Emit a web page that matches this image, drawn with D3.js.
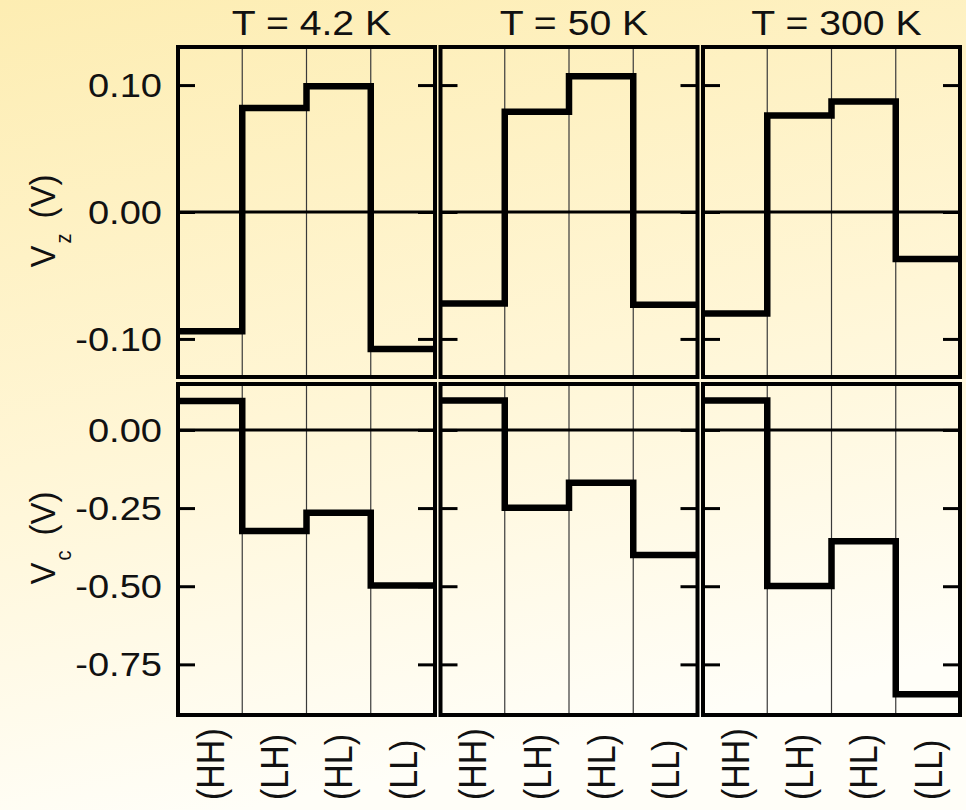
<!DOCTYPE html>
<html>
<head>
<meta charset="utf-8">
<script src="https://cdn.jsdelivr.net/npm/d3@7"></script>
<style>
  body { margin: 0; background: #fffdf5; }
  svg { display: block; }
  text { font-family: "Liberation Sans", Arial, sans-serif; fill: #111; }
</style>
</head>
<body>
<div id="chart"></div>
<script>
// temperatures (columns) and the four states on the x axis
const temps = ['T = 4.2 K', 'T = 50 K', 'T = 300 K'];
const states = ['(HH)', '(LH)', '(HL)', '(LL)'];

// Vz (V), top row
const vz42 = [-0.094, 0.082, 0.099, -0.108];
const vz50 = [-0.072, 0.079, 0.107, -0.073];
const vz300 = [-0.080, 0.076, 0.087, -0.037];

// Vc (V), bottom row
const vc42 = [0.093, -0.323, -0.265, -0.498];
const vc50 = [0.094, -0.249, -0.169, -0.400];
const vc300 = [0.094, -0.499, -0.356, -0.846];

const vzTicks = [0.10, 0.00, -0.10];
const vcTicks = [0.00, -0.25, -0.50, -0.75];

const width = 966;
const height = 810;
const sx = 1.12; // the original text is a little wide

const svg = d3.select('#chart').append('svg')
  .attr('width', width)
  .attr('height', height);

// background gradient, pale yellow fading to near white
const grad = svg.append('defs').append('linearGradient')
  .attr('id', 'bg')
  .attr('x1', 0).attr('y1', 0).attr('x2', 0.25).attr('y2', 1);
grad.append('stop').attr('offset', '0%').attr('stop-color', '#fdedb2');
grad.append('stop').attr('offset', '55%').attr('stop-color', '#fff6d6');
grad.append('stop').attr('offset', '100%').attr('stop-color', '#fffef8');
svg.append('rect').attr('width', width).attr('height', height).attr('fill', 'url(#bg)');

const panelW = 257;
const step = 262.5;
const left0 = 178;

// plain hyphen for negatives, as in the original
const fmt = (d) => d.toFixed(2);

const rows = [
  { series: [vz42, vz50, vz300], domain: [-0.13, 0.13], range: [377, 47], ticks: vzTicks,
    label: ['V', 'z'], labelY: 221 },
  { series: [vc42, vc50, vc300], domain: [-0.912, 0.147], range: [715, 384], ticks: vcTicks,
    label: ['V', 'c'], labelY: 538 }
];

const line = d3.line().curve(d3.curveStepAfter);

rows.forEach((row, r) => {
  const y = d3.scaleLinear().domain(row.domain).range(row.range);

  temps.forEach((t, c) => {
    const x0 = left0 + c * step;
    const x = d3.scaleBand().domain(states).range([x0, x0 + panelW]).paddingInner(0);
    const g = svg.append('g');

    // thin separators between states
    g.selectAll('.grid')
      .data(states.slice(1))
      .join('line')
      .attr('x1', (d) => x(d)).attr('x2', (d) => x(d))
      .attr('y1', row.range[1]).attr('y2', row.range[0])
      .attr('stroke', '#3a3a3a')
      .attr('stroke-width', 1.2);

    // zero line
    g.append('line')
      .attr('x1', x0).attr('x2', x0 + panelW)
      .attr('y1', y(0)).attr('y2', y(0))
      .attr('stroke', '#000')
      .attr('stroke-width', 3);

    // step trace
    const vals = row.series[c];
    const pts = states.map((s, i) => [x(s), y(vals[i])]);
    pts.push([x0 + panelW, y(vals[vals.length - 1])]);
    g.append('path')
      .attr('d', line(pts))
      .attr('fill', 'none')
      .attr('stroke', '#000')
      .attr('stroke-width', 6.5)
      .attr('stroke-linejoin', 'miter');

    // inside ticks on both sides
    const tl = g.append('g')
      .attr('transform', `translate(${x0},0)`)
      .call(d3.axisRight(y).tickValues(row.ticks).tickSize(17).tickFormat(''));
    const tr = g.append('g')
      .attr('transform', `translate(${x0 + panelW},0)`)
      .call(d3.axisLeft(y).tickValues(row.ticks).tickSize(17).tickFormat(''));
    [tl, tr].forEach((a) => {
      a.select('.domain').remove();
      a.selectAll('line').attr('stroke', '#000').attr('stroke-width', 3);
    });

    // frame
    g.append('rect')
      .attr('x', x0).attr('y', row.range[1])
      .attr('width', panelW).attr('height', row.range[0] - row.range[1])
      .attr('fill', 'none')
      .attr('stroke', '#000')
      .attr('stroke-width', 4);

    // column title
    if (r === 0) {
      svg.append('text')
        .attr('transform', `translate(${x0 + panelW / 2 + 5},35) scale(${sx},1)`)
        .attr('text-anchor', 'middle')
        .style('font-size', '35px')
        .text(t);
    }

    // state labels under the bottom row
    if (r === 1) {
      svg.append('g').selectAll('text')
        .data(states)
        .join('text')
        .attr('transform', (d) => `translate(${x(d) + x.bandwidth() / 2},800) scale(${sx},1) rotate(-90)`)
        .attr('dy', '0.36em')
        .attr('text-anchor', 'start')
        .style('font-size', '34px')
        .text((d) => d);
    }
  });

  // tick labels on the left column only
  svg.append('g').selectAll('text')
    .data(row.ticks)
    .join('text')
    .attr('transform', (d) => `translate(162,${y(d)}) scale(${sx},1)`)
    .attr('dy', '0.35em')
    .attr('text-anchor', 'end')
    .style('font-size', '34px')
    .text((d) => fmt(d));

  // y axis label with subscript
  const lab = svg.append('text')
    .attr('transform', `translate(55,${row.labelY}) scale(1.08,1) rotate(-90)`)
    .attr('text-anchor', 'middle')
    .style('font-size', '33px');
  lab.append('tspan').text(row.label[0]);
  lab.append('tspan').attr('dy', 15).attr('dx', 2).style('font-size', '20px').text(row.label[1]);
  lab.append('tspan').attr('dy', -15).attr('dx', 6).text(' (V)');
});
</script>
</body>
</html>
